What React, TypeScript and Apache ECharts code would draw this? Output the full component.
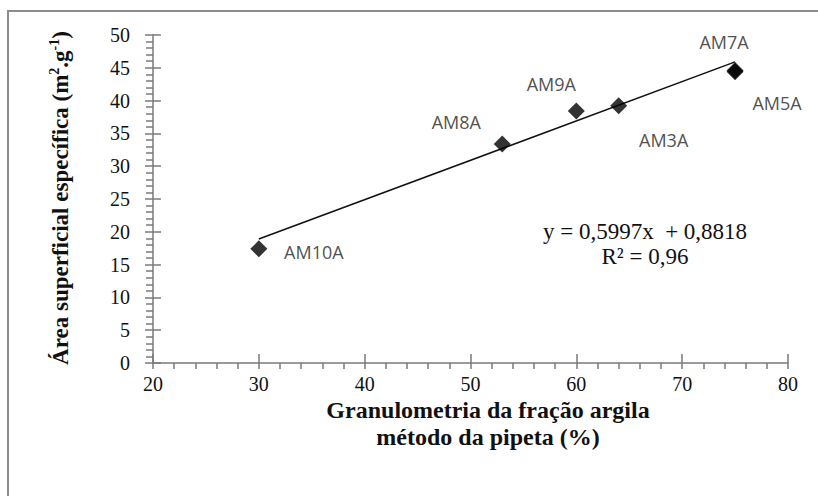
import React, { useEffect, useRef } from "react";
import * as echarts from "echarts";

const sampleNames = ["AM10A", "AM8A", "AM9A", "AM3A", "AM7A", "AM5A"];
const clayPercent = [30, 53, 60, 64, 75, 75];
const specificArea = [17.4, 33.4, 38.4, 39.2, 44.6, 44.4];
const trendStart = [30, 18.9];
const trendEnd = [75, 45.9];
const equationText = "y = 0,5997x  + 0,8818";
const r2Text = "R² = 0,96";
const xTitleLines = ["Granulometria da fração argila", "método da pipeta (%)"];

const labelOffsets: Record<string, number[]> = {
  AM10A: [55, 3],
  AM8A: [-46, -22],
  AM9A: [-25, -27],
  AM3A: [45, 34],
  AM7A: [-11, -28],
  AM5A: [42, 31],
};

const AXIS_COLOR = "#7a7a7a";
const SERIF = "'Liberation Serif', 'Times New Roman', serif";

export default function App() {
  const ref = useRef<HTMLDivElement>(null);
  useEffect(() => {
    if (!ref.current) return;
    const chart = echarts.init(ref.current, null, { renderer: "svg" });
    const scatterData = sampleNames.map((n, i) => ({
      name: n,
      value: [clayPercent[i], specificArea[i]],
      label: { offset: labelOffsets[n] },
    }));
    const xBase = { type: "value", min: 20, max: 80, interval: 10, position: "bottom" };
    const yBase = { type: "value", min: 0, max: 50, interval: 5, position: "left" };
    chart.setOption({
      animation: false,
      grid: { left: 153, right: 30, top: 35, bottom: 133, outerBoundsMode: "none" },
      xAxis: [
        {
          ...xBase,
          axisLine: { show: true, onZero: false, lineStyle: { color: AXIS_COLOR, width: 1.5 } },
          axisTick: { show: true, inside: false, length: 6, lineStyle: { color: AXIS_COLOR, width: 1.5 } },
          minorTick: { show: true, splitNumber: 5, length: 6, lineStyle: { color: AXIS_COLOR, width: 1.5 } },
          axisLabel: { color: "#111", fontFamily: SERIF, fontSize: 20, margin: 11 },
          splitLine: { show: false },
        },
        {
          ...xBase,
          axisLine: { show: false, onZero: false },
          axisTick: { show: true, inside: true, length: 9, lineStyle: { color: AXIS_COLOR, width: 1.5 } },
          axisLabel: { show: false },
          splitLine: { show: false },
        },
      ],
      yAxis: [
        {
          ...yBase,
          axisLine: { show: true, onZero: false, lineStyle: { color: AXIS_COLOR, width: 1.5 } },
          axisTick: { show: true, inside: false, length: 8, lineStyle: { color: AXIS_COLOR, width: 1.5 } },
          minorTick: { show: true, splitNumber: 5, length: 7, lineStyle: { color: AXIS_COLOR, width: 1.5 } },
          axisLabel: { color: "#111", fontFamily: SERIF, fontSize: 20, margin: 23 },
          splitLine: { show: false },
        },
        {
          ...yBase,
          axisLine: { show: false, onZero: false },
          axisTick: { show: true, inside: true, length: 8, lineStyle: { color: AXIS_COLOR, width: 1.5 } },
          axisLabel: { show: false },
          splitLine: { show: false },
        },
      ],
      series: [
        {
          type: "line",
          data: [trendStart, trendEnd],
          symbol: "none",
          lineStyle: { color: "#111", width: 1.5 },
          z: 2,
        },
        {
          type: "scatter",
          data: scatterData,
          symbol: "diamond",
          symbolSize: 17,
          itemStyle: { color: "#000" },
          z: 3,
          label: {
            show: true,
            position: "inside",
            formatter: "{b}",
            color: "#222",
            fontFamily: "'Open Sans', sans-serif",
            fontSize: 18,
          },
        },
      ],
      graphic: [
        {
          type: "rect",
          shape: { x: 8, y: 11, width: 850, height: 520 },
          style: { fill: "transparent", stroke: "#8c8c8c", lineWidth: 2 },
          silent: true,
        },
        {
          type: "text",
          x: 645,
          y: 244,
          style: {
            text: equationText + "\n" + r2Text,
            font: "23px " + SERIF,
            fill: "#111",
            align: "center",
            verticalAlign: "middle",
            lineHeight: 25,
          },
        },
        {
          type: "text",
          x: 488,
          y: 423,
          style: {
            text: xTitleLines.join("\n"),
            font: "bold 24px " + SERIF,
            fill: "#111",
            align: "center",
            verticalAlign: "middle",
            lineHeight: 27,
          },
        },
        {
          type: "text",
          x: 60,
          y: 198,
          rotation: Math.PI / 2,
          style: {
            text: "{a|Área superficial específica (m}{s|2}{a|.g}{s|-1}{a|)}",
            align: "center",
            verticalAlign: "middle",
            fill: "#111",
            rich: {
              a: { fontFamily: SERIF, fontWeight: "bold", fontSize: 23, lineHeight: 26, fill: "#111" },
              s: { fontFamily: SERIF, fontWeight: "bold", fontSize: 14, lineHeight: 26, verticalAlign: "top", fill: "#111" },
            },
          },
        },
      ],
    });
    return () => chart.dispose();
  }, []);
  return (
    <div
      ref={ref}
      style={{ position: "absolute", left: 0, top: 0, width: 818, height: 496, background: "#fff" }}
    />
  );
}
